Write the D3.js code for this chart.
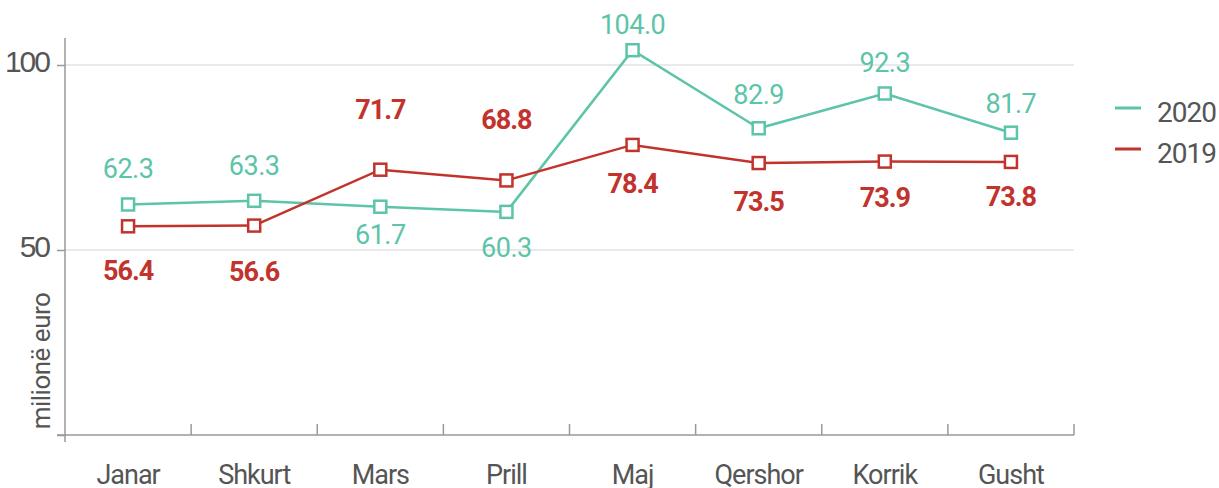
<!DOCTYPE html>
<html>
<head>
<meta charset="utf-8">
<script src="https://cdn.jsdelivr.net/npm/d3@7"></script>
<style>
  body { margin: 0; background: #fff; }
  svg { display: block; font-family: Roboto, "Noto Sans", sans-serif; }
</style>
</head>
<body>
<svg width="1219" height="488"></svg>
<script>
var months = ["Janar", "Shkurt", "Mars", "Prill", "Maj", "Qershor", "Korrik", "Gusht"];
var values2020 = [62.3, 63.3, 61.7, 60.3, 104.0, 82.9, 92.3, 81.7];
var values2019 = [56.4, 56.6, 71.7, 68.8, 78.4, 73.5, 73.9, 73.8];
var yTicks = [0, 50, 100];
var seriesNames = ["2020", "2019"];

// label offsets from the marker (baseline)
var dy2020 = [-26, -26, 37, 45, -16, -24, -21, -20];
var dy2019 = [54, 55, -51, -51, 48, 48, 45, 44];

var teal = "#5cc4a9", red = "#c1332c", grey = "#555";

var svg = d3.select("svg");

var x = d3.scaleBand().domain(months).range([65, 1074]);
var y = d3.scaleLinear().domain([0, 100]).range([435, 65]);

// gridlines
svg.append("g")
    .selectAll("line")
    .data(yTicks.filter(function(d) { return d > 0; }))
    .enter().append("line")
    .attr("x1", 65).attr("x2", 1074)
    .attr("y1", function(d) { return y(d); })
    .attr("y2", function(d) { return y(d); })
    .attr("stroke", "#e2e2e2")
    .attr("stroke-width", 1.5);

// y axis
var yAxis = svg.append("g")
    .attr("transform", "translate(65,0)")
    .call(d3.axisLeft(y).tickValues(yTicks).tickSize(8).tickFormat(function(d) { return d === 0 ? "" : d; }));
yAxis.select(".domain").remove();
yAxis.selectAll(".tick line").attr("stroke", "#999").attr("stroke-width", 1.5);
yAxis.selectAll(".tick text")
    .attr("x", -16)
    .attr("dy", "0.2em")
    .attr("fill", grey)
    .style("font-size", "30px")
    .style("letter-spacing", "-2px");

svg.append("line")
    .attr("x1", 65).attr("x2", 65)
    .attr("y1", 38).attr("y2", 442)
    .attr("stroke", "#999").attr("stroke-width", 1.5);

// x axis with ticks between months
var bounds = months.slice(1).map(function(m) { return x(m); }).concat([x.range()[1]]);
svg.append("line")
    .attr("x1", 57).attr("x2", 1074)
    .attr("y1", 435).attr("y2", 435)
    .attr("stroke", "#999").attr("stroke-width", 1.5);
svg.append("g")
    .selectAll("line")
    .data(bounds)
    .enter().append("line")
    .attr("x1", function(d) { return d; })
    .attr("x2", function(d) { return d; })
    .attr("y1", 424).attr("y2", 435)
    .attr("stroke", "#999").attr("stroke-width", 1.5);

svg.append("g")
    .selectAll("text")
    .data(months)
    .enter().append("text")
    .attr("x", function(d) { return x(d) + x.bandwidth() / 2; })
    .attr("y", 484)
    .attr("text-anchor", "middle")
    .attr("fill", grey)
    .style("font-size", "27px")
    .style("letter-spacing", "-1px")
    .text(function(d) { return d; });

// y title
svg.append("text")
    .attr("transform", "translate(50,361) rotate(-90)")
    .attr("text-anchor", "middle")
    .attr("fill", grey)
    .style("font-size", "26px")
    .style("letter-spacing", "-0.5px")
    .text("milionë euro");

var line = d3.line()
    .x(function(d, i) { return x(months[i]) + x.bandwidth() / 2; })
    .y(function(d) { return y(d); });

function drawSeries(vals, color, dys, bold) {
    var g = svg.append("g");
    g.append("path")
        .datum(vals)
        .attr("fill", "none")
        .attr("stroke", color)
        .attr("stroke-width", 2.5)
        .attr("d", line);
    g.selectAll("rect")
        .data(vals)
        .enter().append("rect")
        .attr("x", function(d, i) { return x(months[i]) + x.bandwidth() / 2 - 6; })
        .attr("y", function(d) { return y(d) - 6; })
        .attr("width", 12).attr("height", 12)
        .attr("fill", "#fff")
        .attr("stroke", color)
        .attr("stroke-width", 2.5);
    g.selectAll("text")
        .data(vals)
        .enter().append("text")
        .attr("x", function(d, i) { return x(months[i]) + x.bandwidth() / 2; })
        .attr("y", function(d, i) { return y(d) + dys[i]; })
        .attr("text-anchor", "middle")
        .attr("fill", color)
        .style("font-size", "27px")
        .style("font-weight", bold ? "bold" : "normal")
        .style("letter-spacing", bold ? "-1px" : "-0.5px")
        .text(function(d) { return d.toFixed(1); });
}

drawSeries(values2020, teal, dy2020, false);
drawSeries(values2019, red, dy2019, true);

// legend
var legend = svg.append("g")
    .selectAll("g")
    .data(seriesNames)
    .enter().append("g")
    .attr("transform", function(d, i) { return "translate(1115," + (108 + i * 41) + ")"; });
legend.append("line")
    .attr("x1", 0).attr("x2", 26)
    .attr("stroke", function(d, i) { return i === 0 ? teal : red; })
    .attr("stroke-width", 3);
legend.append("text")
    .attr("x", 42)
    .attr("y", 14)
    .attr("fill", grey)
    .style("font-size", "28px")
    .style("letter-spacing", "-1px")
    .text(function(d) { return d; });
</script>
</body>
</html>
